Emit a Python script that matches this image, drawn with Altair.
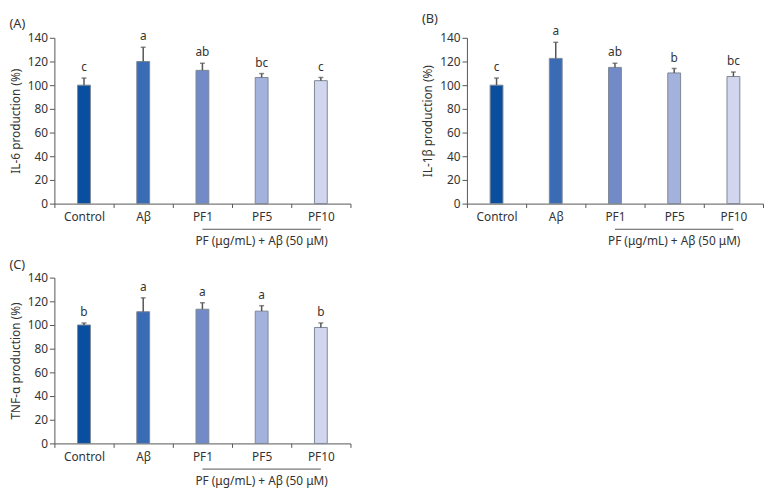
import altair as alt
import pandas as pd

categories = ["Control", "Aβ", "PF1", "PF5", "PF10"]
colors = ["#0A4F9F", "#3A6BB5", "#728AC7", "#A3B2DD", "#D1D6EE"]
y_ticks = [0, 20, 40, 60, 80, 100, 120, 140]

il6_mean = [100, 120, 112.5, 106.5, 103.8]
il6_err = [6, 12, 6, 3.3, 2.7]
il6_letters = ["c", "a", "ab", "bc", "c"]

il1b_mean = [100, 122.6, 115, 110.3, 107.3]
il1b_err = [6, 13.6, 3.5, 3.8, 3.8]
il1b_letters = ["c", "a", "ab", "b", "bc"]

tnf_mean = [100, 111.2, 113.3, 111.7, 97.9]
tnf_err = [1.7, 11.7, 5.5, 4.6, 3.8]
tnf_letters = ["b", "a", "a", "a", "b"]

panel_labels = ["(A)", "(B)", "(C)"]
y_titles = ["IL-6 production (%)", "IL-1β production (%)", "TNF-α production (%)"]

group_label = ["PF (μg/mL) + Aβ (50 μM)"]
group_start = ["PF1"]
group_end = ["PF10"]
group_center = ["PF5"]

FONT = "Noto Sans"
W, H = 300, 168


def panel(mean, err, letters, ytitle, label):
    df = pd.DataFrame({
        "cat": categories,
        "mean": mean,
        "top": [m + e for m, e in zip(mean, err)],
        "letter": letters,
    })
    rdf = pd.DataFrame({"cat": group_start, "end": group_end})
    tdf = pd.DataFrame({"cat": group_center, "label": group_label})
    xscale = alt.Scale(domain=categories, paddingInner=0, paddingOuter=0)
    xaxis = alt.Axis(title=None, labelAngle=0, tickBand="extent", labelOverlap=False,
                     labelPadding=4, tickSize=4)
    x = alt.X("cat:N", scale=xscale, axis=xaxis)
    yaxis = alt.Axis(title=ytitle, values=y_ticks, tickSize=5, labelOverlap=False,
                     labelPadding=2, titlePadding=5, grid=False)
    yscale = alt.Scale(domain=[0, 140], nice=False)
    base = alt.Chart(df)
    bars = base.mark_bar(size=13, stroke="#7d8794", strokeWidth=1).encode(
        x=x, y=alt.Y("mean:Q", scale=yscale, axis=yaxis),
        color=alt.Color("cat:N", scale=alt.Scale(domain=categories, range=colors), legend=None),
    )
    whisk = base.mark_rule(color="#555555", strokeWidth=1.5).encode(
        x=x, y=alt.Y("mean:Q", scale=yscale, axis=yaxis), y2="top:Q")
    cap = base.mark_tick(color="#555555", thickness=1.5, size=5).encode(
        x=x, y=alt.Y("top:Q", scale=yscale, axis=yaxis))
    letters_t = base.mark_text(baseline="bottom", dy=-4, fontSize=12, color="#333333", font=FONT).encode(
        x=x, y=alt.Y("top:Q", scale=yscale, axis=yaxis), text="letter:N")
    grule = alt.Chart(rdf).mark_rule(color="#555555", strokeWidth=1).encode(
        x=x, x2="end:N", y=alt.value(H + 26),
    )
    gtext = alt.Chart(tdf).mark_text(fontSize=12, color="#333333", font=FONT, baseline="middle").encode(
        x=x, y=alt.value(H + 38), text="label:N")
    return alt.layer(bars, whisk, cap, letters_t, grule, gtext).properties(
        width=W, height=H,
        title=alt.TitleParams(label, anchor="start", fontSize=13, fontWeight="normal",
                              color="#333333", font=FONT, offset=0),
    )


pa = panel(il6_mean, il6_err, il6_letters, y_titles[0], panel_labels[0])
pb = panel(il1b_mean, il1b_err, il1b_letters, y_titles[1], panel_labels[1])
pc = panel(tnf_mean, tnf_err, tnf_letters, y_titles[2], panel_labels[2])

chart = alt.vconcat(
    alt.hconcat(pa, pb, spacing=71),
    alt.hconcat(pc),
    spacing=12,
).properties(padding={"left": 1, "top": 1, "right": 0, "bottom": 0}).configure_view(stroke=None).configure_axis(
    domainColor="#555555", tickColor="#555555", labelColor="#333333",
    titleColor="#333333", labelFont=FONT, titleFont=FONT,
    labelFontSize=12, titleFontSize=12, titleFontWeight="normal",
)

chart.save("out.html", embed_options={"renderer": "svg", "actions": False})
